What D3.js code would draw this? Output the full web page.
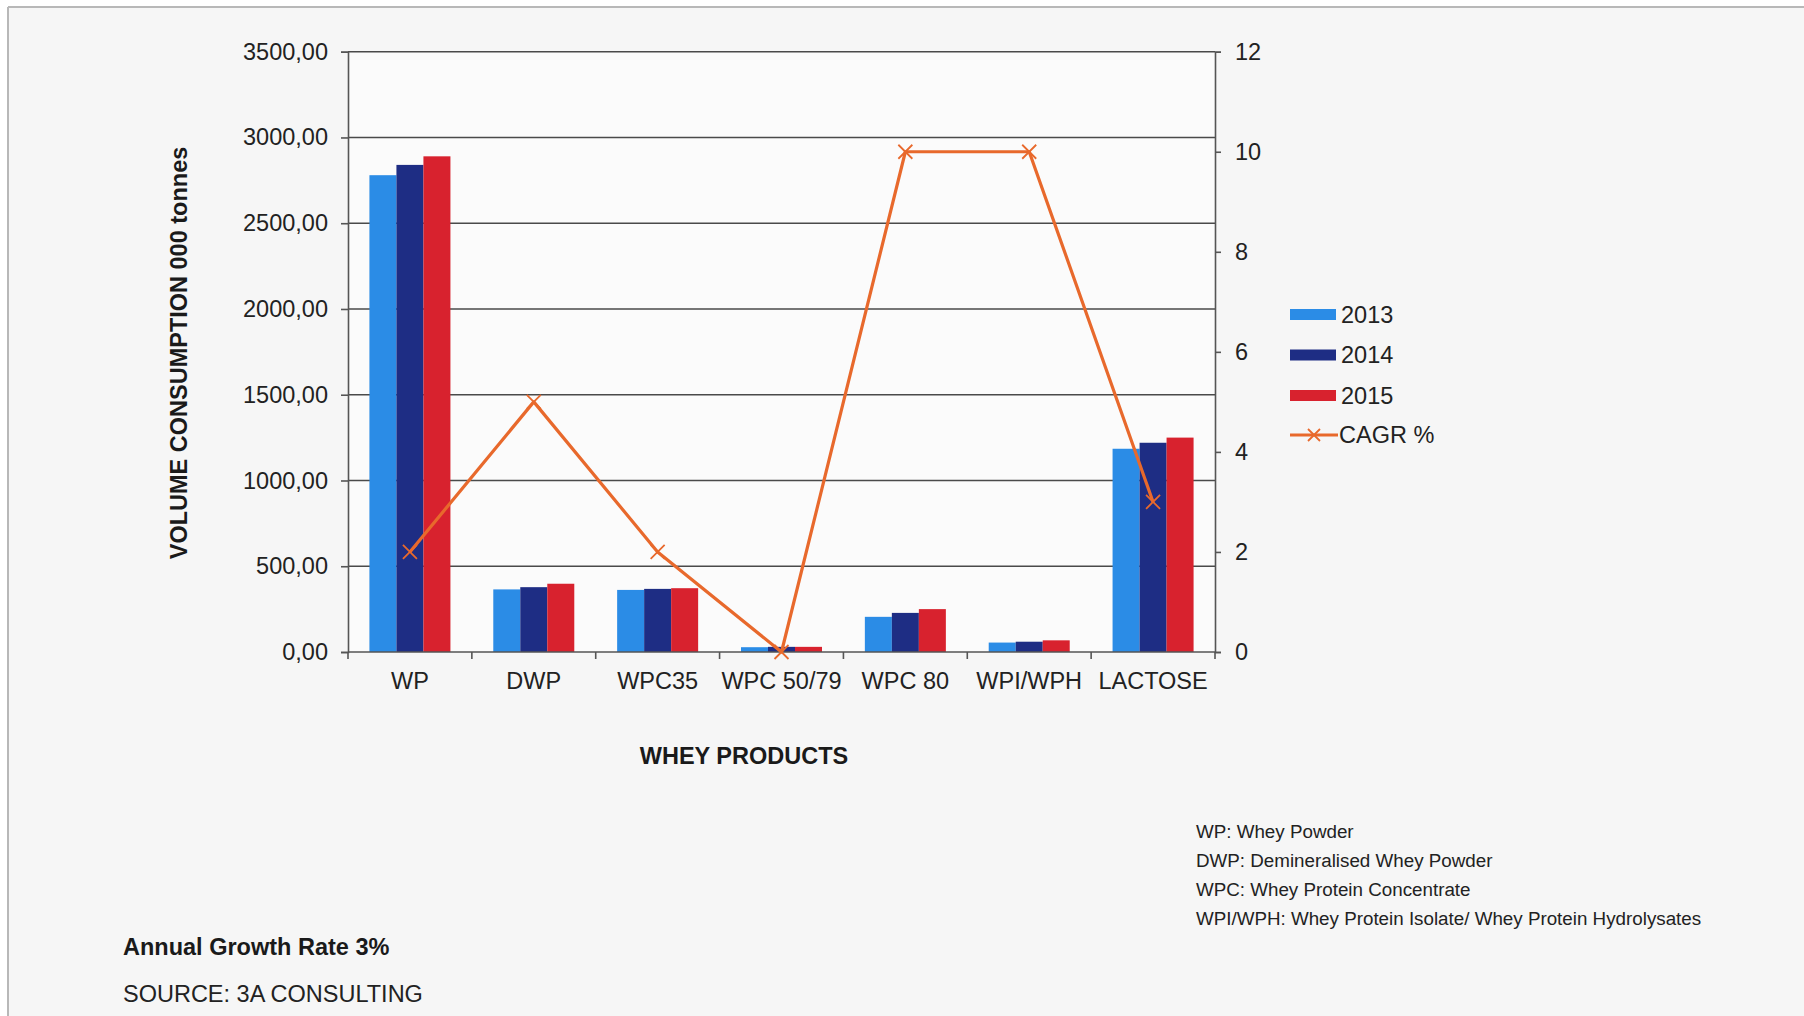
<!DOCTYPE html>
<html>
<head>
<meta charset="utf-8">
<script src="https://cdn.jsdelivr.net/npm/d3@7"></script>
<style>
  html, body { margin: 0; padding: 0; background: #ffffff; }
  svg { display: block; font-family: "Liberation Sans", Arial, sans-serif; }
</style>
</head>
<body>
<svg id="chart" width="1804" height="1016"></svg>
<script>
// ---- data ----
const categories = ["WP", "DWP", "WPC35", "WPC 50/79", "WPC 80", "WPI/WPH", "LACTOSE"];
const years = ["2013", "2014", "2015"];
const vol2013 = [2780, 365, 362, 28, 205, 55, 1185];
const vol2014 = [2840, 378, 368, 30, 228, 60, 1220];
const vol2015 = [2890, 398, 372, 30, 250, 68, 1250];
const cagr = [2, 5, 2, 0, 10, 10, 3];
const leftTicks = [0, 500, 1000, 1500, 2000, 2500, 3000, 3500];
const rightTicks = [0, 2, 4, 6, 8, 10, 12];
const footnotes = [
  "WP: Whey Powder",
  "DWP: Demineralised Whey Powder",
  "WPC: Whey Protein Concentrate",
  "WPI/WPH: Whey Protein Isolate/ Whey Protein Hydrolysates"
];
const yearColors = ["#2b8ce6", "#1e2d84", "#d8222e"];
const lineColor = "#e8692c";

const series = [vol2013, vol2014, vol2015];

const svg = d3.select("#chart");

// paper background with scan border
svg.append("rect").attr("x", 0).attr("y", 0).attr("width", 1804).attr("height", 1016).attr("fill", "#ffffff");
svg.append("rect").attr("x", 8).attr("y", 7).attr("width", 1796).attr("height", 1009).attr("fill", "#f6f6f6");
svg.append("line").attr("x1", 8).attr("x2", 1804).attr("y1", 7).attr("y2", 7).attr("stroke", "#b8b8b8").attr("stroke-width", 2);
svg.append("line").attr("x1", 8).attr("x2", 8).attr("y1", 7).attr("y2", 1016).attr("stroke", "#b8b8b8").attr("stroke-width", 2);

const L = 348, R = 1215, T = 51.7, B = 652;
const fs = 23.5;

const x0 = d3.scaleBand().domain(categories).range([L, R]).paddingInner(0).paddingOuter(0);
const bw = x0.bandwidth();
const x1 = d3.scaleBand().domain(years).range([bw * 0.173, bw * 0.827]).padding(0);
const yL = d3.scaleLinear().domain([0, 3500]).range([B, T]);
const yR = d3.scaleLinear().domain([0, 12]).range([B, T]);

// plot area
svg.append("rect").attr("x", L).attr("y", T).attr("width", R - L).attr("height", B - T).attr("fill", "#fbfbfb");

// gridlines
svg.append("g").selectAll("line").data(leftTicks.filter(d => d > 0)).join("line")
  .attr("x1", L).attr("x2", R)
  .attr("y1", d => yL(d)).attr("y2", d => yL(d))
  .attr("stroke", "#4a4a4a").attr("stroke-width", 1.6);

// bars
const groups = svg.append("g").selectAll("g").data(categories).join("g")
  .attr("transform", d => `translate(${x0(d)},0)`);
groups.selectAll("rect").data((d, i) => years.map((yr, k) => ({ yr, k, v: series[k][i] }))).join("rect")
  .attr("x", d => x1(d.yr))
  .attr("width", x1.bandwidth())
  .attr("y", d => yL(d.v))
  .attr("height", d => B - yL(d.v))
  .attr("fill", d => yearColors[d.k]);

// left axis
const leftAxis = d3.axisLeft(yL).tickValues(leftTicks).tickSize(7).tickPadding(13)
  .tickFormat(d => d3.format(".2f")(d).replace(".", ","));
const gL = svg.append("g").attr("transform", `translate(${L},0)`).call(leftAxis);
gL.select(".domain").attr("stroke", "#555").attr("stroke-width", 1.6);
gL.selectAll(".tick line").attr("stroke", "#555").attr("stroke-width", 1.6);
gL.selectAll(".tick text").attr("font-size", fs).attr("fill", "#222").attr("font-family", "Liberation Sans, Arial, sans-serif");

// right axis
const rightAxis = d3.axisRight(yR).tickValues(rightTicks).tickSize(6).tickPadding(14).tickFormat(d3.format("d"));
const gR = svg.append("g").attr("transform", `translate(${R},0)`).call(rightAxis);
gR.select(".domain").attr("stroke", "#555").attr("stroke-width", 1.6);
gR.selectAll(".tick line").attr("stroke", "#555").attr("stroke-width", 1.6);
gR.selectAll(".tick text").attr("font-size", fs).attr("fill", "#222").attr("font-family", "Liberation Sans, Arial, sans-serif");

// bottom axis
const gB = svg.append("g").attr("transform", `translate(0,${B})`);
gB.append("line").attr("x1", L).attr("x2", R).attr("y1", 0).attr("y2", 0).attr("stroke", "#555").attr("stroke-width", 1.6);
gB.selectAll("line.tk").data(d3.range(categories.length + 1)).join("line").attr("class", "tk")
  .attr("x1", i => L + i * bw).attr("x2", i => L + i * bw)
  .attr("y1", 0).attr("y2", 7).attr("stroke", "#555").attr("stroke-width", 1.6);
gB.selectAll("text").data(categories).join("text")
  .attr("x", d => x0(d) + bw / 2).attr("y", 37)
  .attr("text-anchor", "middle").attr("font-size", fs).attr("fill", "#222")
  .text(d => d);

// CAGR line
const linePts = categories.map((c, i) => [x0(c) + bw / 2, yR(cagr[i])]);
svg.append("path").datum(linePts)
  .attr("d", d3.line())
  .attr("fill", "none").attr("stroke", lineColor).attr("stroke-width", 3.2).attr("stroke-linejoin", "round");
const mk = 7;
svg.append("g").selectAll("path").data(linePts).join("path")
  .attr("d", d => `M${d[0] - mk},${d[1] - mk}L${d[0] + mk},${d[1] + mk}M${d[0] - mk},${d[1] + mk}L${d[0] + mk},${d[1] - mk}`)
  .attr("stroke", lineColor).attr("stroke-width", 1.8).attr("fill", "none");

// axis titles
svg.append("text")
  .attr("transform", `translate(187,353) rotate(-90)`)
  .attr("text-anchor", "middle").attr("font-size", fs).attr("font-weight", "bold").attr("fill", "#1a1a1a")
  .text("VOLUME CONSUMPTION 000 tonnes");
svg.append("text")
  .attr("x", 744).attr("y", 764)
  .attr("text-anchor", "middle").attr("font-size", fs).attr("font-weight", "bold").attr("fill", "#1a1a1a")
  .text("WHEY PRODUCTS");

// legend
const legY = [314.5, 355, 395.5];
const leg = svg.append("g");
years.forEach((yr, k) => {
  leg.append("rect").attr("x", 1290).attr("y", legY[k] - 5.5).attr("width", 46).attr("height", 11).attr("fill", yearColors[k]);
  leg.append("text").attr("x", 1341).attr("y", legY[k] + 8).attr("font-size", fs).attr("fill", "#222").text(yr);
});
const cy = 435;
leg.append("line").attr("x1", 1290).attr("x2", 1338).attr("y1", cy).attr("y2", cy).attr("stroke", lineColor).attr("stroke-width", 3.2);
leg.append("path").attr("d", `M${1314 - 6},${cy - 6}L${1314 + 6},${cy + 6}M${1314 - 6},${cy + 6}L${1314 + 6},${cy - 6}`)
  .attr("stroke", lineColor).attr("stroke-width", 1.8);
leg.append("text").attr("x", 1339).attr("y", cy + 8).attr("font-size", fs).attr("fill", "#222").text("CAGR %");

// footnotes
svg.append("g").selectAll("text").data(footnotes).join("text")
  .attr("x", 1196).attr("y", (d, i) => 838 + i * 29)
  .attr("font-size", 18.8).attr("fill", "#222")
  .text(d => d);

// footer
svg.append("text").attr("x", 123).attr("y", 955).attr("font-size", fs).attr("font-weight", "bold").attr("fill", "#1a1a1a")
  .text("Annual Growth Rate 3%");
svg.append("text").attr("x", 123).attr("y", 1002).attr("font-size", fs).attr("fill", "#222")
  .text("SOURCE: 3A CONSULTING");
</script>
</body>
</html>
